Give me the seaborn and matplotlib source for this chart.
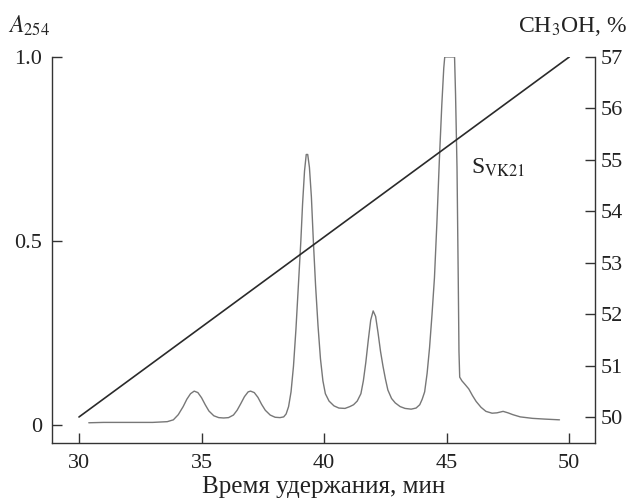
import matplotlib
matplotlib.use("Agg")
import matplotlib.pyplot as plt
import seaborn as sns
import pandas as pd

# Chromatogram (retention time, min ; absorbance A254)
time_min = [30.4, 31.0, 32.0, 33.0, 33.6, 33.85, 34.05, 34.25, 34.4, 34.55, 34.7, 34.85, 35.0,
            35.15, 35.3, 35.5, 35.7, 35.9, 36.1, 36.3, 36.45, 36.6, 36.75, 36.9, 37.0, 37.15,
            37.3, 37.45, 37.6, 37.8, 38.0, 38.2, 38.35, 38.45, 38.55, 38.65, 38.75, 38.85,
            38.95, 39.05, 39.12, 39.2, 39.27, 39.33, 39.4, 39.48, 39.56, 39.65, 39.75, 39.85,
            39.95, 40.05, 40.2, 40.4, 40.6, 40.85, 41.05, 41.2, 41.35, 41.5, 41.6, 41.7, 41.8,
            41.9, 42.0, 42.1, 42.2, 42.3, 42.4, 42.5, 42.6, 42.75, 42.9, 43.1, 43.3, 43.55,
            43.75, 43.9, 44.0, 44.1, 44.2, 44.3, 44.4, 44.5, 44.6, 44.7, 44.8, 44.88, 44.92,
            45.32, 45.36, 45.42, 45.47, 45.5, 45.53, 45.62, 45.75, 45.9, 46.05, 46.2, 46.4,
            46.6, 46.85, 47.05, 47.3, 47.5, 47.7, 48.0, 48.5, 49.0, 49.6]
a254 = [0.006, 0.007, 0.007, 0.007, 0.009, 0.014, 0.028, 0.05, 0.07, 0.085, 0.092, 0.088, 0.074,
        0.055, 0.038, 0.025, 0.02, 0.019, 0.02, 0.027, 0.04, 0.058, 0.077, 0.09, 0.092, 0.088,
        0.075, 0.056, 0.04, 0.027, 0.021, 0.02, 0.022, 0.03, 0.05, 0.09, 0.16, 0.26,
        0.38, 0.5, 0.6, 0.69, 0.735, 0.735, 0.70, 0.62, 0.5, 0.38, 0.27, 0.18,
        0.12, 0.085, 0.065, 0.052, 0.046, 0.045, 0.05, 0.055, 0.065, 0.085, 0.12, 0.17, 0.23,
        0.285, 0.31, 0.295, 0.25, 0.2, 0.16, 0.125, 0.095, 0.072, 0.06, 0.05, 0.045, 0.043,
        0.046, 0.055, 0.07, 0.09, 0.14, 0.21, 0.3, 0.4, 0.55, 0.72, 0.87, 0.97, 1.0,
        1.0, 0.9, 0.7, 0.4, 0.2, 0.13, 0.12, 0.11, 0.098, 0.08, 0.064, 0.048,
        0.037, 0.032, 0.033, 0.037, 0.033, 0.028, 0.022, 0.018, 0.016, 0.014]

# Methanol gradient
grad_time = [30, 50]
grad_meoh = [50, 57]

x_ticks = [30, 35, 40, 45, 50]
y_ticks = [0, 0.5, 1.0]
y_tick_labels = ["0", "0.5", "1.0"]
y2_ticks = [50, 51, 52, 53, 54, 55, 56, 57]

sns.set_style("ticks")
plt.rcParams["font.family"] = ["Liberation Serif", "DejaVu Serif"]
plt.rcParams["mathtext.fontset"] = "stix"

fig = plt.figure(figsize=(6.32, 5.04), dpi=100)
ax = fig.add_axes([0.0823, 0.121, 0.9415 - 0.0823, 0.887 - 0.121])
ax2 = ax.twinx()

df_chrom = pd.DataFrame({"t": time_min, "A": a254})
df_grad = pd.DataFrame({"t": grad_time, "m": grad_meoh})

sns.lineplot(data=df_chrom, x="t", y="A", ax=ax, color="#777777", lw=1.0, sort=False)
sns.lineplot(data=df_grad, x="t", y="m", ax=ax2, color="#2a2a2a", lw=1.2)

ax.set_xlim(28.9, 51.05)
ax.set_ylim(-0.049, 1.0)
ax2.set_ylim(49.494, 57)

for a in (ax, ax2):
    a.spines["top"].set_visible(False)
    a.set_xlabel("")
    a.set_ylabel("")
ax.spines["right"].set_visible(False)
ax2.spines["left"].set_visible(False)
ax2.spines["bottom"].set_visible(False)
for a in (ax, ax2):
    for s in a.spines.values():
        s.set_color("#333333")
        s.set_linewidth(1.0)

ax.set_xticks(x_ticks)
ax.set_yticks(y_ticks)
ax.set_yticklabels(y_tick_labels)
ax2.set_yticks(y2_ticks)

ax.tick_params(axis="both", direction="in", length=7, width=1.0, colors="#333333",
               labelsize=16, labelcolor="#222222")
ax.tick_params(axis="x", pad=8)
ax.tick_params(axis="y", pad=7)
ax2.tick_params(axis="y", direction="in", length=7, width=1.0, colors="#333333",
                labelsize=16, labelcolor="#222222", pad=4)

ax.set_xlabel("Время удержания, мин", fontsize=18, color="#222222", labelpad=2)

fig.text(0.012, 0.948, "$A_{254}$", fontsize=17, color="#222222", ha="left", va="center")
fig.text(0.992, 0.948, "CH$_3$OH, %", fontsize=17, color="#222222", ha="right", va="center")
ax.text(46.0, 0.70, "S$_{\\rm VK21}$", fontsize=17, color="#222222", ha="left", va="center")

fig.savefig("out.png", dpi=100)
